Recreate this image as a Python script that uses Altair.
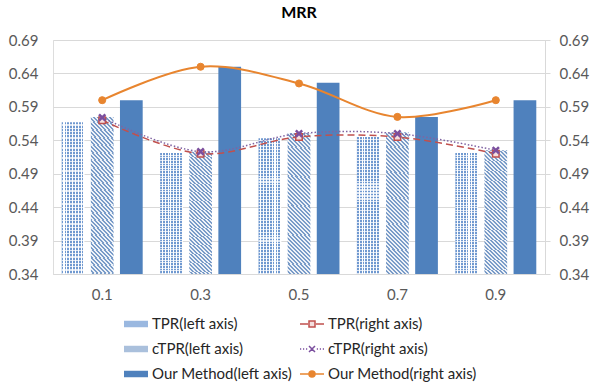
import altair as alt
import pandas as pd

categories = ["0.1", "0.3", "0.5", "0.7", "0.9"]
tpr_left = [0.567, 0.521, 0.543, 0.545, 0.521]
ctpr_left = [0.575, 0.523, 0.551, 0.552, 0.525]
our_left = [0.600, 0.650, 0.626, 0.575, 0.600]
tpr_right = [0.570, 0.520, 0.545, 0.545, 0.520]
ctpr_right = [0.574, 0.523, 0.550, 0.550, 0.525]
our_right = [0.600, 0.650, 0.625, 0.575, 0.600]
tick_values = [0.34, 0.39, 0.44, 0.49, 0.54, 0.59, 0.64, 0.69]

series_names = ["TPR(left axis)", "cTPR(left axis)", "Our Method(left axis)",
                "TPR(right axis)", "cTPR(right axis)", "Our Method(right axis)"]
bar_series = series_names[:3]

rows = []
for name, vals in zip(series_names, [tpr_left, ctpr_left, our_left, tpr_right, ctpr_right, our_right]):
    for c, v in zip(categories, vals):
        rows.append({"cat": c, "series": name, "value": v})
df = pd.DataFrame(rows)
df_legend = pd.DataFrame({"series": series_names})

FONT = "Lato"
BLUE = "#4f81bd"
RED = "#c0504d"
PURPLE = "#7b4f9e"
ORANGE = "#e8852f"
GRID = "#d9d9d9"


def stripes(c1, c2, n, frac, x1, y1, x2, y2):
    stops = []
    for i in range(n):
        a = i / n
        m = (i + frac) / n
        b = (i + 1) / n
        stops += [{"offset": a, "color": c1}, {"offset": m, "color": c1},
                  {"offset": m, "color": c2}, {"offset": b, "color": c2}]
    return {"gradient": "linear", "stops": stops, "x1": x1, "y1": y1, "x2": x2, "y2": y2}


grid_vertical = stripes("#7099d0", "#ffffff", 8, 0.62, 0, 0, 1, 0)
grid_horizontal = stripes("rgba(255,255,255,0)", "rgba(255,255,255,0.75)", 46, 0.62, 0, 0, 0, 1)
hatch = stripes("#7a9cc8", "#eef2f8", 42, 0.5, 0.2, -0.2, 0, 1)

x_enc = alt.X("cat:N", sort=categories,
              scale=alt.Scale(paddingInner=0.177, paddingOuter=0.0885),
              axis=alt.Axis(title=None, labelAngle=0, ticks=False, domain=True,
                            domainColor=GRID, labelFont=FONT, labelFontSize=15,
                            labelColor="#595959", labelPadding=13, grid=False))
y_scale = alt.Scale(domain=[0.34, 0.69], nice=False, zero=False)
y_left = alt.Y("value:Q", scale=y_scale,
               axis=alt.Axis(values=tick_values, format=".2f", title=None, domain=False,
                             ticks=False, grid=True, gridColor=GRID, labelFont=FONT,
                             labelFontSize=15, labelColor="#595959", labelPadding=15))
y_right = alt.Y("value:Q", scale=y_scale,
                axis=alt.Axis(orient="right", values=tick_values, format=".2f", title=None,
                              domain=True, domainColor=GRID, ticks=True, tickColor=GRID,
                              tickSize=5, grid=False, labelFont=FONT, labelFontSize=15,
                              labelColor="#595959", labelPadding=9))
xoff = alt.XOffset("series:N", scale=alt.Scale(domain=bar_series, paddingInner=0.22, paddingOuter=0))

base = alt.Chart(df)


def bar_layer(name, fill):
    return base.transform_filter(alt.datum.series == name).mark_bar(fill=fill, strokeWidth=0).encode(
        x=x_enc, xOffset=xoff, y=y_left, y2=alt.datum(0.34))


bars = alt.layer(
    bar_layer("TPR(left axis)", grid_vertical),
    bar_layer("TPR(left axis)", grid_horizontal),
    bar_layer("cTPR(left axis)", hatch),
    bar_layer("Our Method(left axis)", BLUE),
)


def line_layer(name, color, dash, width):
    kw = {"strokeDash": dash} if dash else {}
    return base.transform_filter(alt.datum.series == name).mark_line(
        color=color, strokeWidth=width, interpolate="catmull-rom", **kw).encode(x=x_enc, y=y_right)


def point_layer(name, shape, size, fill, stroke, sw, filled=True):
    return base.transform_filter(alt.datum.series == name).mark_point(
        shape=shape, size=size, fill=fill, stroke=stroke, strokeWidth=sw,
        filled=filled, opacity=1).encode(x=x_enc, y=y_right)


lines = alt.layer(
    line_layer("TPR(right axis)", RED, [7, 4], 1.5),
    line_layer("cTPR(right axis)", "#8064a2", [1.5, 2], 1.5),
    line_layer("Our Method(right axis)", ORANGE, None, 2),
    point_layer("TPR(right axis)", "square", 42, "#f4dede", RED, 1.5),
    point_layer("cTPR(right axis)", "M-1,-1L1,1M-1,1L1,-1", 40, PURPLE, PURPLE, 2.5),
    point_layer("Our Method(right axis)", "circle", 50, ORANGE, ORANGE, 1),
)

rect_path = "M-1,-0.27H1V0.27H-1Z"
tpr_r_path = "M-1,0H-0.33M0.33,0H1M-0.25,-0.25H0.25V0.25H-0.25Z"
ctpr_r_path = ("M-1,0H-0.9M-0.75,0H-0.65M-0.5,0H-0.4M0.4,0H0.5M0.65,0H0.75M0.9,0H1"
               "M-0.25,-0.25L0.25,0.25M-0.25,0.25L0.25,-0.25")
our_r_path = "M-1,0H1M0.25,0A0.25,0.25,0,1,1,-0.25,0A0.25,0.25,0,1,1,0.25,0Z"

leg = alt.Legend(orient="none", legendX=70, legendY=271, columns=2, title=None,
                 symbolSize=576, labelFont=FONT, labelFontSize=15, labelColor="#262626",
                 labelOffset=3, rowPadding=4, columnPadding=5, symbolStrokeWidth=1.5,
                 labelLimit=400)
leg_scale_fill = alt.Scale(domain=series_names,
                           range=["#9ab8e0", "#aac0dc", BLUE, "#f4dede", PURPLE, ORANGE])
leg_scale_stroke = alt.Scale(domain=series_names,
                             range=["transparent", "transparent", "transparent", RED, PURPLE, ORANGE])
leg_scale_shape = alt.Scale(domain=series_names,
                            range=[rect_path, rect_path, rect_path, tpr_r_path, ctpr_r_path, our_r_path])

# legend-only layer: its tiny marks sit hidden behind a solid bar
legend_layer = alt.Chart(df_legend).mark_point(filled=True, opacity=1, size=16).encode(
    x=alt.value(79), y=alt.value(200),
    fill=alt.Fill("series:N", scale=leg_scale_fill, legend=leg),
    stroke=alt.Stroke("series:N", scale=leg_scale_stroke, legend=leg),
    shape=alt.Shape("series:N", scale=leg_scale_shape, legend=leg),
)

chart = alt.layer(legend_layer, bars, lines).resolve_scale(y="independent").properties(
    width=492, height=234,
    title=alt.Title("MRR", font=FONT, fontSize=16, fontWeight="bold", color="#000000",
                    anchor="middle", offset=12),
    autosize=alt.AutoSizeParams(type="none"),
    padding={"left": 53, "top": 40, "right": 45, "bottom": 112},
).configure_view(stroke=None).configure(background="white")

chart.save("out.html", embed_options={"renderer": "svg", "actions": False})
